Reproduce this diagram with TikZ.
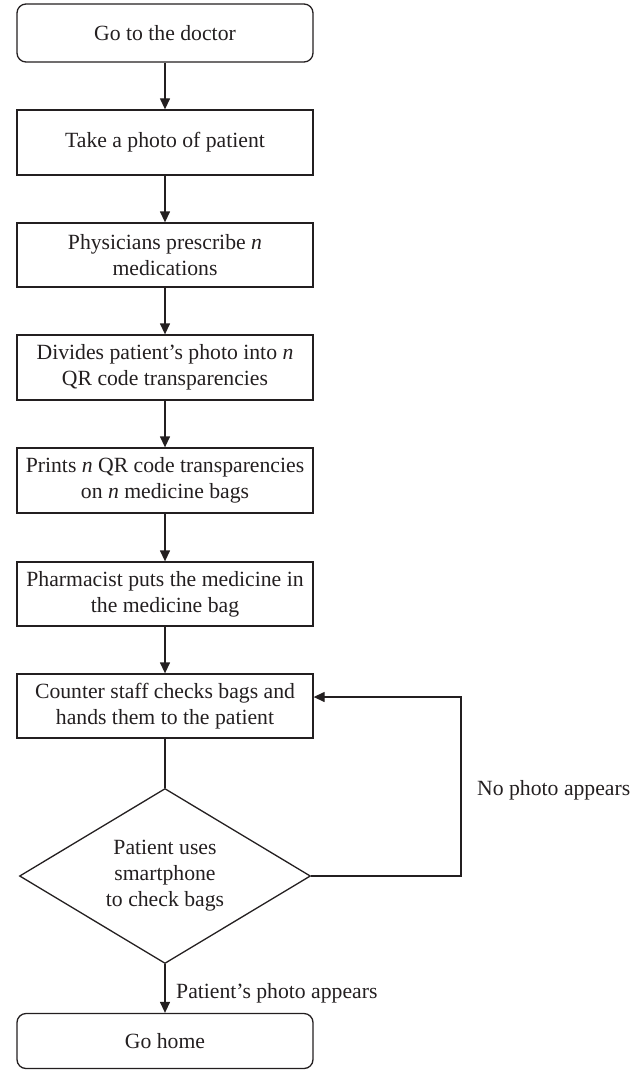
\documentclass[tikz,border=0pt]{standalone}
\usepackage{fontspec}
\setmainfont{Liberation Serif}
\usetikzlibrary{arrows.meta,shapes.geometric}
\definecolor{ink}{HTML}{231F20}
\begin{document}
\begin{tikzpicture}[x=1pt,y=-1pt,
  every node/.style={font=\fontsize{21.7}{26}\selectfont, text=ink},
  box/.style={draw=ink, line width=1.3pt, rectangle, minimum width=296pt, align=center, inner sep=0pt},
  term/.style={box, rounded corners=9pt},
  decision/.style={draw=ink, line width=1.3pt, diamond, minimum width=291pt, minimum height=175pt, inner sep=0pt},
  conn/.style={draw=ink, line width=1.3pt, -{Triangle[length=11pt,width=10pt]}},
  plain/.style={draw=ink, line width=1.3pt},
  lbl/.style={inner sep=0pt}
]
\useasboundingbox (0,0) rectangle (644,1070);
\node[term, minimum height=58pt] (b1) at (165,33) {Go to the doctor};
\node[box, minimum height=65pt] (b2) at (165,142.5) {Take a photo of patient};
\node[box, minimum height=64pt] (b3) at (165,255) {Physicians prescribe \textit{n}\\medications};
\node[box, minimum height=65pt] (b4) at (165,367.5) {Divides patient's photo into \textit{n}\\QR code transparencies};
\node[box, minimum height=65pt] (b5) at (165,480.5) {Prints \textit{n} QR code transparencies\\on \textit{n} medicine bags};
\node[box, minimum height=64pt] (b6) at (165,594) {Pharmacist puts the medicine in\\the medicine bag};
\node[box, minimum height=64pt] (b7) at (165,706) {Counter staff checks bags and\\hands them to the patient};
\node[decision] (d) at (165,876) {};
\node[align=center, inner sep=0pt] (dt) at (d.center) {Patient uses\\smartphone\\to check bags};
\node[term, minimum height=55pt] (b8) at (165,1041) {Go home};
\draw[conn] (b1) -- (b2);
\draw[conn] (b2) -- (b3);
\draw[conn] (b3) -- (b4);
\draw[conn] (b4) -- (b5);
\draw[conn] (b5) -- (b6);
\draw[conn] (b6) -- (b7);
\draw[plain] (b7) -- (d);
\draw[conn] (d) -- (b8);
\coordinate (c1) at (461,876);
\coordinate (c2) at (461,697);
\draw[conn] (d.east) -- (c1) -- (c2) -- (b7.east |- c2);
\node[lbl, anchor=west] (lno) at (477,790) {No photo appears};
\node[lbl, anchor=west] (lyes) at (176,993) {Patient's photo appears};
\end{tikzpicture}
\end{document}
